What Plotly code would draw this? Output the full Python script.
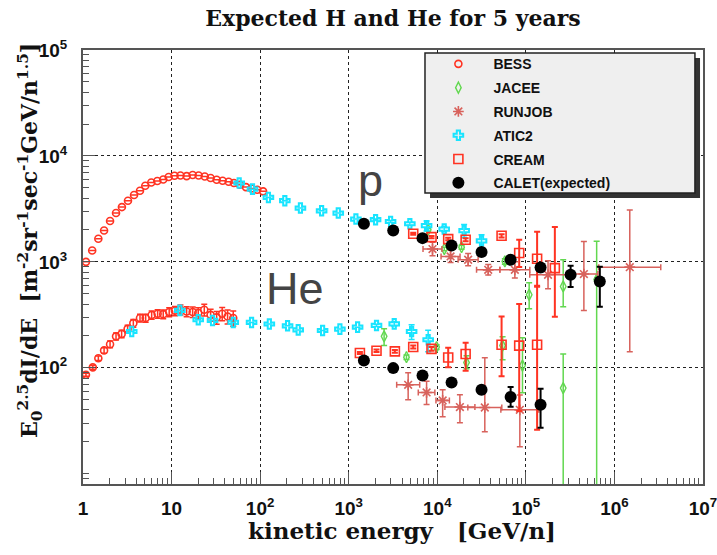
import plotly.graph_objects as go

# ---------------- measured fluxes: E0^2.5 dI/dE ----------------
# BESS (proton / helium)
bess_p_E = [1.08, 1.27, 1.49, 1.73, 2.02, 2.36, 2.75, 3.22, 3.77, 4.40, 5.05, 5.9, 6.9, 8.05,
            9.27, 10.8, 12.6, 14.8, 17.3, 20.2, 23.7, 27.6, 32.3, 37.7, 44.1, 50.6, 59.1,
            69.2, 79.4, 92.7, 108]
bess_p_F = [1000, 1280, 1650, 1980, 2430, 2890, 3290, 3780, 4280, 4690, 5230, 5620, 5800, 6000,
            6320, 6500, 6530, 6450, 6600, 6530, 6400, 6180, 5960, 5830, 5700, 5550, 5350,
            5080, 4930, 4800, 4630]
bess_he_E = [1.08, 1.29, 1.49, 1.73, 2.02, 2.36, 2.73, 3.19, 3.70, 4.40, 5.1, 5.96, 6.96, 8.05,
             9.4, 10.9, 12.6, 14.8, 17.3, 20.0, 23.4, 27.6, 32.3, 37.3, 42.9, 49.7]
bess_he_F = [86, 101, 123, 146, 167, 198, 209, 233, 264, 295, 295, 315, 324, 321,
             336, 345, 353, 340, 336, 329, 353, 316, 299, 324, 305, 295]
bess_he_err = [3, 4, 6, 9, 12, 15, 17, 19, 22, 25, 26, 28, 30, 31,
               33, 35, 38, 37, 38, 39, 44, 41, 41, 46, 46, 48]

# JACEE
jacee_p_E = [7890, 12000, 18800, 57900, 109000, 264000, 630000]
jacee_p_F = [2010, 1321, 1377, 1010, 489, 586, 680]
jacee_p_up = [60, 50, 60, 60, 146, 461, 885]
jacee_p_dn = [60, 50, 60, 60, 128, 209, 679]
jacee_he_E = [2510, 4490, 9820, 21400, 54600, 91600, 264000]
jacee_he_F = [198, 126, 157, 112, 162, 105, 64.3]
jacee_he_up = [36, 6, 8, 18, 34, 87, 71]
jacee_he_dn = [36, 6, 8, 14, 43, 47, 64]

# RUNJOB
runjob_p_E = [8830, 14120, 22300, 37600, 75100, 178000, 452000, 1490000]
runjob_p_F = [1321, 1125, 1047, 841, 841, 755, 767, 891]
runjob_p_up = [207, 160, 150, 105, 160, 270, 790, 2200]
runjob_p_dn = [179, 140, 130, 90, 135, 198, 420, 749]
runjob_p_Eup = [2470, 3950, 6620, 13350, 35800, 108400, 198400, 1845000]
runjob_p_Edn = [1930, 3090, 5110, 9850, 24250, 67400, 163600, 824000]
runjob_he_E = [4690, 7570, 11500, 18000, 34400, 85500]
runjob_he_F = [69, 58.5, 49.2, 42.6, 42.2, 40.1]
runjob_he_up = [20.7, 16, 12.9, 13, 82, 15.4]
runjob_he_dn = [19.2, 13.5, 14.7, 12.3, 17.3, 22.1]
runjob_he_Eup = [1640, 1820, 2190, 8590, 19100, 54500]
runjob_he_Edn = [1210, 1470, 1840, 5810, 12280, 33300]

# ATIC-2
atic_p_E = [58, 82, 124, 190, 285, 494, 762, 1205, 2010, 2970, 4900, 7570, 11970, 20100, 31600]
atic_p_F = [5550, 4860, 4055, 3780, 3220, 3035, 2890, 2535, 2500, 2405, 2290, 2195, 2040, 1970, 1580]
atic_p_err = [0, 0, 0, 0, 0, 0, 0, 0, 40, 50, 80, 240, 120, 280, 220]
atic_he_E = [3.55, 12.4, 20, 29, 49.7, 80, 127, 204, 269, 507, 795, 1260, 2060, 3265, 5130, 7890]
atic_he_F = [220, 348, 284, 280, 268, 268, 259, 249, 228, 225, 232, 242, 251, 260, 220, 184]
atic_he_err = [0, 0, 0, 0, 0, 0, 0, 0, 0, 0, 0, 0, 6, 12, 35, 42]

# CREAM
cream_p_E = [5350, 8610, 13280, 20900, 53200, 84100, 134000, 212500]
cream_p_F = [1841, 1713, 1641, 1618, 1762, 1211, 1069, 873]
cream_p_up = [40, 40, 45, 50, 60, 406, 855, 1265]
cream_p_dn = [40, 40, 45, 50, 60, 316, 475, 570]
cream_he_E = [1337, 2060, 3320, 5350, 8610, 13280, 20900, 53200, 84100, 134000]
cream_he_F = [138, 145, 143, 157, 151, 125, 135, 165, 162, 165]
cream_he_up = [3, 4, 4, 5, 6, 30, 37, 140, 238, 418]
cream_he_dn = [3, 4, 4, 5, 6, 24, 41, 82, 123, 139]

# CALET, expected after 5 years
calet_p_E = [1485, 3180, 6810, 14500, 31600, 67300, 146600, 320000, 684000]
calet_p_F = [2290, 1977, 1675, 1428, 1237, 1047, 885, 755, 653]
calet_p_up = [10, 12, 14, 18, 25, 40, 70, 163, 246]
calet_p_dn = [10, 12, 14, 18, 25, 40, 70, 175, 276]
calet_he_E = [1485, 3180, 6810, 14500, 31600, 67300, 146600]
calet_he_F = [117, 99.3, 84.5, 72.6, 62, 52.9, 44.8]
calet_he_up = [1, 1.5, 2, 3, 5, 13, 18.6]
calet_he_dn = [1, 1.5, 2, 3, 5, 10, 17.6]

x_tick_vals = [1, 10, 100, 1e3, 1e4, 1e5, 1e6, 1e7]
x_tick_text = ["1", "10", "10<sup>2</sup>", "10<sup>3</sup>", "10<sup>4</sup>",
               "10<sup>5</sup>", "10<sup>6</sup>", "10<sup>7</sup>"]
y_tick_vals = [100, 1e3, 1e4, 1e5]
y_tick_text = ["10<sup>2</sup>", "10<sup>3</sup>", "10<sup>4</sup>", "10<sup>5</sup>"]

C_BESS = "#ff3322"
C_JACEE = "#62d850"
C_RUNJOB = "#d8625c"
C_ATIC = "#18e4ff"
C_CREAM = "#ff3322"
C_CALET = "#000000"

fig = go.Figure()


def yerr(up, dn, color, width=1.5):
    return dict(type="data", symmetric=False, array=up, arrayminus=dn,
                color=color, thickness=width, width=3)


# BESS
fig.add_trace(go.Scatter(
    name="BESS", legendgroup="bess", mode="markers",
    x=bess_p_E + bess_he_E, y=bess_p_F + bess_he_F,
    error_y=yerr([0] * len(bess_p_F) + bess_he_err, [0] * len(bess_p_F) + bess_he_err, C_BESS),
    marker=dict(symbol="circle-open", size=7, color=C_BESS, line=dict(width=1.6, color=C_BESS)),
))
# JACEE
fig.add_trace(go.Scatter(
    name="JACEE", legendgroup="jacee", mode="markers",
    x=jacee_p_E + jacee_he_E, y=jacee_p_F + jacee_he_F,
    error_y=yerr(jacee_p_up + jacee_he_up, jacee_p_dn + jacee_he_dn, C_JACEE),
    marker=dict(symbol="diamond-tall-open", size=8, color=C_JACEE, line=dict(width=1.4, color=C_JACEE)),
))
# RUNJOB
fig.add_trace(go.Scatter(
    name="RUNJOB", legendgroup="runjob", mode="markers",
    x=runjob_p_E + runjob_he_E, y=runjob_p_F + runjob_he_F,
    error_y=yerr(runjob_p_up + runjob_he_up, runjob_p_dn + runjob_he_dn, C_RUNJOB),
    error_x=dict(type="data", symmetric=False, array=runjob_p_Eup + runjob_he_Eup,
                 arrayminus=runjob_p_Edn + runjob_he_Edn, color=C_RUNJOB, thickness=1.5, width=3),
    marker=dict(symbol="asterisk-open", size=9, color=C_RUNJOB, line=dict(width=1.6, color=C_RUNJOB)),
))
# ATIC-2
fig.add_trace(go.Scatter(
    name="ATIC2", legendgroup="atic", mode="markers",
    x=atic_p_E + atic_he_E, y=atic_p_F + atic_he_F,
    error_y=yerr(atic_p_err + atic_he_err, atic_p_err + atic_he_err, C_ATIC),
    marker=dict(symbol="cross-open", size=8, color=C_ATIC, line=dict(width=2, color=C_ATIC)),
))
# CREAM
fig.add_trace(go.Scatter(
    name="CREAM", legendgroup="cream", mode="markers",
    x=cream_p_E + cream_he_E, y=cream_p_F + cream_he_F,
    error_y=yerr(cream_p_up + cream_he_up, cream_p_dn + cream_he_dn, C_CREAM, 2),
    marker=dict(symbol="square-open", size=9, color=C_CREAM, line=dict(width=1.6, color=C_CREAM)),
))
# CALET
fig.add_trace(go.Scatter(
    name="CALET(expected)", legendgroup="calet", mode="markers",
    x=calet_p_E + calet_he_E, y=calet_p_F + calet_he_F,
    error_y=yerr(calet_p_up + calet_he_up, calet_p_dn + calet_he_dn, C_CALET, 2),
    marker=dict(symbol="circle", size=12, color=C_CALET),
))

axis_common = dict(
    type="log", showline=True, linecolor="#555555", linewidth=2, mirror=True,
    ticks="inside", ticklen=12, tickwidth=1.2, tickcolor="#555555",
    showgrid=True, gridcolor="#222222", gridwidth=1.3, griddash="dot",
    zeroline=False, ticklabeloverflow="allow", automargin=False,
    tickfont=dict(family="Liberation Sans, Arial, sans-serif", size=19, color="#111111", weight="bold"),
    minor=dict(ticks="inside", ticklen=6, tickwidth=1.2, tickcolor="#555555", dtick="D1", showgrid=False),
)

fig.update_xaxes(range=[0, 7], tickmode="array", tickvals=x_tick_vals, ticktext=x_tick_text,
                 ticklabelstandoff=6, **axis_common)
fig.update_yaxes(range=[0.903, 5], tickmode="array", tickvals=y_tick_vals, ticktext=y_tick_text,
                 ticklabelstandoff=10, **axis_common)

serif_bold = dict(family="DejaVu Serif, serif", color="#111111", weight="bold")

fig.update_layout(
    width=717, height=555,
    margin=dict(l=83, r=14, t=50, b=71, autoexpand=False),
    paper_bgcolor="white", plot_bgcolor="white",
    title=dict(text="Expected H and He for 5 years", x=0.5, xref="paper", xanchor="center",
               y=1 - 18 / 555, yref="container", yanchor="middle",
               font=dict(size=22, **serif_bold)),
    legend=dict(x=0.549, y=1.004, xanchor="left", yanchor="top",
                bgcolor="rgba(0,0,0,0)", borderwidth=0, itemwidth=60,
                tracegroupgap=2.6,
                font=dict(family="Liberation Sans, Arial, sans-serif", size=14, color="#111111", weight="bold")),
    shapes=[
        # legend box shadow and frame
        dict(type="rect", xref="paper", yref="paper", x0=0.5597, x1=0.9952, y0=0.659, y1=0.9816,
             fillcolor="#333333", line=dict(width=0), layer="above"),
        dict(type="rect", xref="paper", yref="paper", x0=0.5516, x1=0.987, y0=0.6705, y1=0.9931,
             fillcolor="#efefef", line=dict(width=1.5, color="#222222"), layer="above"),
    ],
    annotations=[
        dict(text="E<sub>0</sub><sup>2.5</sup>dI/dE  [m<sup>-2</sup>sr<sup>-1</sup>sec<sup>-1</sup>GeV/n<sup>1.5</sup>]",
             xref="paper", yref="paper", x=-0.0855, y=0.562, xanchor="center", yanchor="middle",
             textangle=-90, showarrow=False, font=dict(size=22, **serif_bold)),
        dict(text="kinetic energy   [GeV/n]", xref="paper", yref="paper", x=0.514, y=-0.106,
             xanchor="center", yanchor="middle", showarrow=False, font=dict(size=23, **serif_bold)),
        dict(text="p", xref="paper", yref="paper", x=(370 - 83) / 620, y=(484 - 180) / 434,
             xanchor="center", yanchor="middle", showarrow=False,
             font=dict(family="Liberation Sans, Arial, sans-serif", size=45, color="#444444")),
        dict(text="He", xref="paper", yref="paper", x=(264 - 83) / 620, y=(484 - 288) / 434,
             xanchor="left", yanchor="middle", showarrow=False,
             font=dict(family="Liberation Sans, Arial, sans-serif", size=45, color="#444444")),
    ],
)

fig.write_html("out.html")
